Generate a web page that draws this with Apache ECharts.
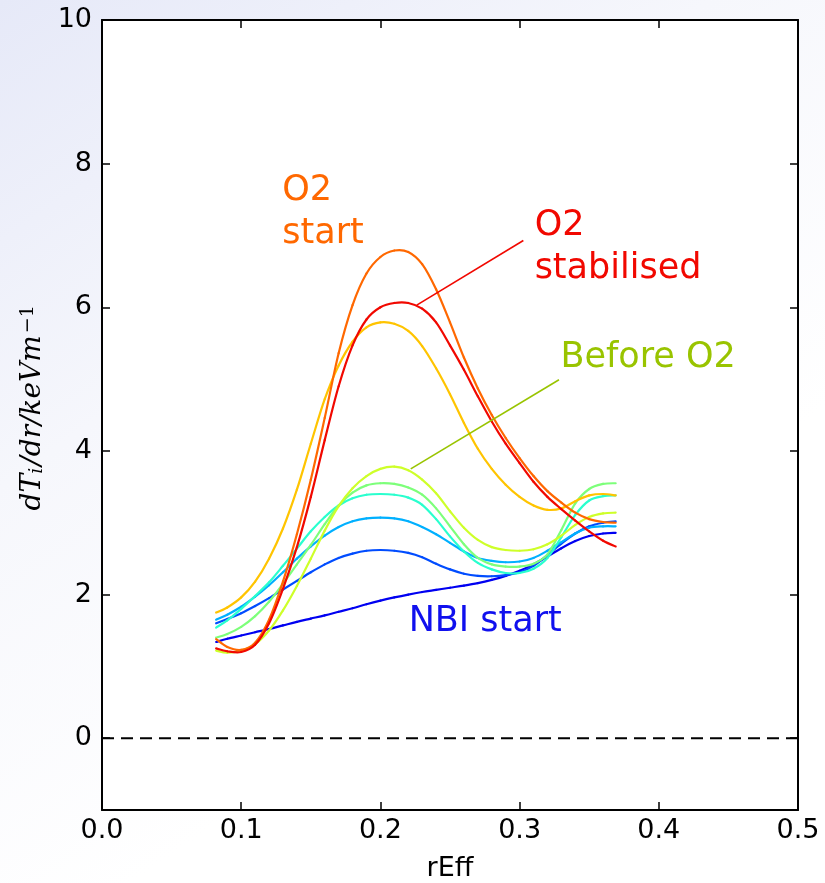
<!DOCTYPE html>
<html>
<head>
<meta charset="utf-8">
<script src="https://cdn.jsdelivr.net/npm/echarts@6/dist/echarts.min.js"></script>
<style>
html,body{margin:0;padding:0;background:#fff;}
#chart{width:825px;height:883px;}
</style>
</head>
<body>
<div id="chart"></div>
<script>
// ---- data ----
const rEff = [0.082, 0.09, 0.10, 0.11, 0.12, 0.13, 0.14, 0.15, 0.16, 0.17, 0.18, 0.19, 0.20, 0.21, 0.22, 0.23, 0.24, 0.25, 0.26, 0.27, 0.28, 0.29, 0.30, 0.31, 0.32, 0.33, 0.34, 0.35, 0.36, 0.369];

const curveNbiStart = [1.34, 1.385, 1.43, 1.475, 1.52, 1.57, 1.62, 1.665, 1.71, 1.76, 1.81, 1.865, 1.915, 1.96, 2.00, 2.035, 2.065, 2.095, 2.125, 2.16, 2.205, 2.26, 2.33, 2.42, 2.53, 2.645, 2.745, 2.815, 2.85, 2.86];
const curve2 = [1.60, 1.66, 1.74, 1.84, 1.95, 2.07, 2.19, 2.31, 2.42, 2.51, 2.57, 2.61, 2.62, 2.61, 2.58, 2.52, 2.43, 2.35, 2.29, 2.26, 2.255, 2.27, 2.31, 2.40, 2.55, 2.71, 2.85, 2.95, 3.00, 3.02];
const curve3 = [1.65, 1.72, 1.83, 1.97, 2.13, 2.31, 2.50, 2.67, 2.82, 2.94, 3.02, 3.06, 3.07, 3.06, 3.02, 2.94, 2.84, 2.72, 2.60, 2.51, 2.47, 2.45, 2.46, 2.51, 2.61, 2.73, 2.85, 2.93, 2.95, 2.95];
const curve4 = [1.54, 1.64, 1.80, 1.98, 2.17, 2.40, 2.64, 2.88, 3.08, 3.24, 3.34, 3.39, 3.40, 3.39, 3.35, 3.25, 3.05, 2.81, 2.60, 2.44, 2.35, 2.30, 2.30, 2.36, 2.51, 2.80, 3.11, 3.31, 3.37, 3.38];
const curve5 = [1.40, 1.45, 1.55, 1.70, 1.90, 2.15, 2.42, 2.69, 2.98, 3.24, 3.42, 3.52, 3.55, 3.54, 3.49, 3.39, 3.20, 2.95, 2.70, 2.51, 2.42, 2.39, 2.39, 2.43, 2.56, 2.90, 3.27, 3.47, 3.54, 3.55];
const curveBeforeO2 = [1.22, 1.19, 1.22, 1.31, 1.50, 1.78, 2.12, 2.50, 2.89, 3.23, 3.48, 3.65, 3.75, 3.78, 3.73, 3.60, 3.41, 3.16, 2.93, 2.76, 2.66, 2.62, 2.61, 2.63, 2.70, 2.82, 2.97, 3.08, 3.13, 3.14];
const curve7 = [1.75, 1.82, 1.96, 2.18, 2.50, 2.92, 3.46, 4.10, 4.72, 5.19, 5.52, 5.72, 5.79, 5.77, 5.67, 5.46, 5.15, 4.79, 4.39, 4.03, 3.75, 3.53, 3.36, 3.24, 3.18, 3.20, 3.30, 3.38, 3.40, 3.38];
const curveO2Start = [1.38, 1.27, 1.23, 1.33, 1.65, 2.18, 2.84, 3.60, 4.46, 5.36, 6.03, 6.47, 6.70, 6.79, 6.77, 6.60, 6.25, 5.79, 5.30, 4.87, 4.50, 4.18, 3.90, 3.65, 3.44, 3.28, 3.14, 3.05, 3.01, 3.00];
const curveO2Stabilised = [1.25, 1.21, 1.20, 1.30, 1.60, 2.08, 2.66, 3.36, 4.15, 4.90, 5.47, 5.83, 6.00, 6.06, 6.06, 5.98, 5.79, 5.47, 5.13, 4.76, 4.41, 4.10, 3.83, 3.57, 3.36, 3.19, 3.03, 2.88, 2.75, 2.67];

const curveList = [curveNbiStart, curve2, curve3, curve4, curve5, curveBeforeO2, curve7, curveO2Start, curveO2Stabilised];
const curveColors = ['#0000f1', '#004cff', '#00b0ff', '#29ffce', '#7dff7a', '#ceff29', '#ffc400', '#ff6800', '#f10800'];

const xTicks = [0.0, 0.1, 0.2, 0.3, 0.4, 0.5];
const yTicks = [0, 2, 4, 6, 8, 10];

// annotations: [text, x, y (cap middle), color]
const annotTexts = [
  ['O2', 0.1295, 7.62, '#ff6800'],
  ['start', 0.1295, 7.02, '#ff6800'],
  ['O2', 0.3108, 7.13, '#f10800'],
  ['stabilised', 0.3108, 6.54, '#f10800'],
  ['Before O2', 0.3293, 5.29, '#99c400'],
  ['NBI start', 0.2203, 1.62, '#1010ee']
];
const annotLines = [
  [[0.2261, 6.03], [0.3027, 6.93], '#f10800'],
  [[0.2218, 3.75], [0.3283, 4.99], '#99c400']
];

// ---- chart ----
const chart = echarts.init(document.getElementById('chart'), null, {renderer: 'canvas'});
const FONT = 'DejaVu Sans';

// smooth curve (Catmull-Rom through the data points, positioned by the axes)
function curveSeries(vals, color, z) {
  return {
    type: 'custom',
    coordinateSystem: 'cartesian2d',
    data: rEff.map((x, j) => [x, vals[j]]),
    encode: {x: 0, y: 1},
    clip: false,
    z: z,
    animation: false,
    renderItem: function (params, api) {
      if (params.dataIndex !== 0) return null;
      const pts = rEff.map((x, j) => api.coord([x, vals[j]]));
      const n = pts.length;
      const children = [];
      for (let i = 0; i < n - 1; i++) {
        const p0 = pts[Math.max(i - 1, 0)], p1 = pts[i], p2 = pts[i + 1], p3 = pts[Math.min(i + 2, n - 1)];
        children.push({
          type: 'bezierCurve',
          shape: {
            x1: p1[0], y1: p1[1], x2: p2[0], y2: p2[1],
            cpx1: p1[0] + (p2[0] - p0[0]) / 6, cpy1: p1[1] + (p2[1] - p0[1]) / 6,
            cpx2: p2[0] - (p3[0] - p1[0]) / 6, cpy2: p2[1] - (p3[1] - p1[1]) / 6
          },
          style: {stroke: color, lineWidth: 2.2, fill: null, lineCap: 'round'}
        });
      }
      return {type: 'group', children: children};
    }
  };
}

const series = curveList.map((vals, i) => curveSeries(vals, curveColors[i], 3 + i));

series.unshift({
  type: 'line',
  data: [[0, 0], [0.5, 0]],
  symbol: 'none',
  lineStyle: {color: '#000', width: 2, type: [12, 7]},
  z: 2,
  animation: false
});

annotLines.forEach(l => {
  series.push({
    type: 'line',
    data: [l[0], l[1]],
    symbol: 'none',
    lineStyle: {color: l[2], width: 1.6},
    z: 20,
    animation: false
  });
});

const axisCommon = {
  type: 'value',
  axisLine: {show: true, onZero: false, lineStyle: {color: '#000', width: 2}},
  axisTick: {show: true, inside: true, length: 8, lineStyle: {color: '#000', width: 1.5}},
  splitLine: {show: false}
};

chart.setOption({
  animation: false,
  backgroundColor: {
    type: 'linear', x: 0, y: 0, x2: 0.55, y2: 0.75,
    colorStops: [{offset: 0, color: '#e6e9f8'}, {offset: 0.5, color: '#f6f7fc'}, {offset: 1, color: '#ffffff'}]
  },
  grid: {left: 102, right: 27, top: 20, bottom: 73, show: true, backgroundColor: '#ffffff', borderWidth: 0,
    containLabel: false, outerBoundsMode: 'none'},
  xAxis: [
    Object.assign({}, axisCommon, {
      position: 'bottom', min: 0, max: 0.5, interval: 0.1,
      axisLabel: {show: true, margin: 7, fontSize: 27, fontFamily: FONT, color: '#000',
        showMinLabel: true, showMaxLabel: true, formatter: v => v.toFixed(1)},
      name: 'rEff', nameLocation: 'middle', nameGap: 45,
      nameTextStyle: {fontSize: 27, fontFamily: FONT, color: '#000'}
    }),
    Object.assign({}, axisCommon, {
      position: 'top', min: 0, max: 0.5, interval: 0.1,
      axisLabel: {show: false}
    })
  ],
  yAxis: [
    Object.assign({}, axisCommon, {
      position: 'left', min: -1, max: 10,
      axisTick: {show: true, inside: true, length: 8, customValues: yTicks, lineStyle: {color: '#000', width: 1.5}},
      axisLabel: {show: true, margin: 10, fontSize: 27, fontFamily: FONT, color: '#000', customValues: yTicks}
    }),
    Object.assign({}, axisCommon, {
      position: 'right', min: -1, max: 10,
      axisTick: {show: true, inside: true, length: 8, customValues: yTicks, lineStyle: {color: '#000', width: 1.5}},
      axisLabel: {show: false}
    })
  ],
  series: series
});

// annotation texts placed in data coordinates
const graphics = annotTexts.map(a => {
  const p = chart.convertToPixel({gridIndex: 0}, [a[1], a[2]]);
  return {
    type: 'text', x: p[0], y: p[1], z: 50,
    style: {text: a[0], fill: a[3], font: '35px "DejaVu Sans"', textAlign: 'left', textVerticalAlign: 'middle'}
  };
});
// y-axis title (math style)
const yc = chart.convertToPixel({gridIndex: 0}, [0, 4.6]);
graphics.push({
  type: 'text', x: 33, y: yc[1], rotation: Math.PI / 2, z: 50,
  style: {
    text: '{a|dT}{s|i}{a|/dr/keVm}{p|\u22121}',
    textAlign: 'center', textVerticalAlign: 'middle',
    rich: {
      a: {fontFamily: 'DejaVu Serif', fontStyle: 'italic', fontSize: 28, fill: '#000', verticalAlign: 'middle'},
      s: {fontFamily: 'DejaVu Serif', fontStyle: 'italic', fontSize: 19, fill: '#000', verticalAlign: 'bottom', padding: [0, 2, 0, 0]},
      p: {fontFamily: 'DejaVu Serif', fontStyle: 'normal', fontSize: 19, fill: '#000', verticalAlign: 'top', padding: [0, 0, 0, 2]}
    }
  }
});
chart.setOption({graphic: graphics});
</script>
</body>
</html>
